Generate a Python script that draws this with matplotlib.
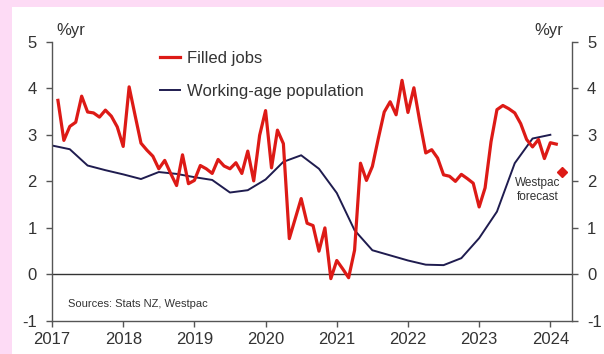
import numpy as np
import matplotlib
matplotlib.use("Agg")
import matplotlib.pyplot as plt
from matplotlib.patches import Rectangle

plt.rcParams['font.family'] = ['Liberation Sans', 'DejaVu Sans']
plt.rcParams['axes.unicode_minus'] = False

# filled jobs, annual % change, monthly Jan 2017 - Jan 2024
filled_jobs = [
    3.74, 2.88, 3.18, 3.27, 3.83, 3.49, 3.47, 3.38, 3.53, 3.40, 3.17, 2.75,   # 2017
    4.03, 3.42, 2.82, 2.67, 2.54, 2.27, 2.45, 2.17, 1.91, 2.57, 1.95, 2.02,   # 2018
    2.34, 2.27, 2.17, 2.47, 2.33, 2.27, 2.40, 2.17, 2.65, 2.01, 2.99, 3.52,   # 2019
    2.29, 3.10, 2.81, 0.77, 1.20, 1.63, 1.10, 1.05, 0.50, 1.00, -0.09, 0.30,  # 2020
    0.12, -0.07, 0.52, 2.39, 2.02, 2.32, 2.92, 3.49, 3.71, 3.43, 4.17, 3.48,  # 2021
    4.01, 3.28, 2.61, 2.68, 2.50, 2.14, 2.11, 2.00, 2.15, 2.06, 1.96, 1.45,   # 2022
    1.86, 2.85, 3.54, 3.63, 3.56, 3.47, 3.24, 2.90, 2.74, 2.90, 2.49, 2.83,   # 2023
    2.80,                                                                     # 2024
]
jobs_start = 2017  # first month = Jan 2017

# working-age population, annual % change, quarterly Dec 2016 - Dec 2023
working_age = [
    2.77,
    2.69, 2.34, 2.24, 2.15,
    2.05, 2.20, 2.16, 2.09,
    2.03, 1.76, 1.81, 2.04,
    2.42, 2.56, 2.27, 1.75,
    0.95, 0.52, 0.41, 0.30,
    0.21, 0.20, 0.35, 0.78,
    1.35, 2.39, 2.92, 3.00,
]

# Westpac forecast for Feb 2024
forecast_x = 2024 + 2 / 12
forecast_val = 2.2

year_ticks = [2017, 2018, 2019, 2020, 2021, 2022, 2023, 2024]
y_ticks = [-1, 0, 1, 2, 3, 4, 5]

red = '#DD1A16'
navy = '#1F1C4F'
txt = '#333333'
spine_col = '#555555'

# month-end positions as fractional years
x_jobs = jobs_start + (np.arange(len(filled_jobs)) + 1) / 12
x_pop = 2017 + np.arange(len(working_age)) * 0.25

fig = plt.figure(figsize=(6.04, 3.54), dpi=100)
fig.patch.set_facecolor('white')
W, H = 604, 354

# pink page border along top and left
fig.patches.append(Rectangle((0, 1 - 7 / H), 1, 7 / H, transform=fig.transFigure,
                             facecolor='#FDDBF5', edgecolor='none', zorder=0))
fig.patches.append(Rectangle((0, 0), 12 / W, 1, transform=fig.transFigure,
                             facecolor='#FDDBF5', edgecolor='none', zorder=0))

ax = fig.add_axes([52 / W, 1 - 321 / H, (571.7 - 52) / W, (321 - 41.7) / H])
ax.set_facecolor('none')

ax.axhline(0, color='#333333', lw=1.0, zorder=1)
ax.plot(x_pop, working_age, color=navy, lw=1.4, label='Working-age population', zorder=2)
ax.plot(x_jobs, filled_jobs, color=red, lw=2.3, label='Filled jobs', zorder=3)
ax.plot([forecast_x], [forecast_val], marker='D', ms=5, color=red, ls='none', zorder=4)

ax.set_xlim(2017, 2024 + 3.6 / 12)
ax.set_ylim(-1, 5)
ax.set_xticks(year_ticks)
ax.set_yticks(y_ticks)

ax.spines['top'].set_visible(False)
for s in ['left', 'right', 'bottom']:
    ax.spines[s].set_color(spine_col)
    ax.spines[s].set_linewidth(1.0)

ax.tick_params(axis='both', direction='out', length=4, width=1.0, color=spine_col,
               labelsize=12, labelcolor=txt)
ax.tick_params(axis='y', pad=7, left=True, right=True, labelleft=True, labelright=True)
ax.tick_params(axis='x', pad=4)

fig.text(56.5 / W, 1 - 31 / H, '%yr', fontsize=12, color=txt, va='center', ha='left')
fig.text(563 / W, 1 - 31 / H, '%yr', fontsize=12, color=txt, va='center', ha='right')

fig.text(68 / W, 1 - 304 / H, 'Sources: Stats NZ, Westpac', fontsize=8, color=txt,
         va='center', ha='left')
fig.text(538 / W, 1 - 190 / H, 'Westpac\nforecast', fontsize=8.5, color=txt,
         va='center', ha='center', linespacing=1.15)

handles, labels = ax.get_legend_handles_labels()
leg = ax.legend(handles[::-1], labels[::-1], loc='upper left',
                bbox_to_anchor=(160 / W, 1 - 51 / H), bbox_transform=fig.transFigure,
                frameon=False, fontsize=12, handlelength=1.2, handletextpad=0.4,
                labelspacing=1.1, borderpad=0, borderaxespad=0)
for t in leg.get_texts():
    t.set_color(txt)

fig.savefig('out.png', dpi=100)
